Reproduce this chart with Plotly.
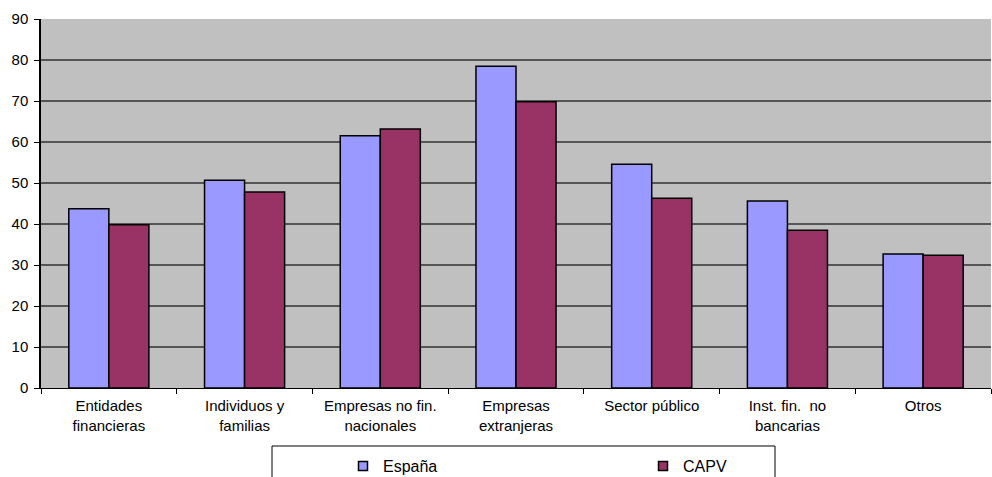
import plotly.graph_objects as go

categories = ["Entidades<br>financieras", "Individuos y<br>familias", "Empresas no fin.<br>nacionales",
              "Empresas<br>extranjeras", "Sector público", "Inst. fin.  no<br>bancarias", "Otros"]
espana = [43.7, 50.7, 61.5, 78.5, 54.6, 45.6, 32.7]
capv = [39.8, 47.8, 63.2, 69.8, 46.3, 38.5, 32.4]
series_names = ["España", "CAPV"]
series_colors = ["#9999FF", "#993366"]

fig = go.Figure()
for name, vals, col in zip(series_names, [espana, capv], series_colors):
    fig.add_trace(go.Bar(name=name, x=categories, y=vals, showlegend=False,
                         marker=dict(color=col, line=dict(color="black", width=1.5))))
# legend-only entries (small square markers as in the original)
for name, col in zip(series_names, series_colors):
    fig.add_trace(go.Scatter(name=name, x=[None], y=[None], mode="markers",
                             marker=dict(symbol="square", size=9, color=col,
                                         line=dict(color="black", width=1.5))))

def px_x(p):
    return (p - 41) / 950.0

def px_y(p):
    return (388 - p) / 369.0

fig.update_layout(
    width=992, height=477,
    margin=dict(l=41, r=1, t=19, b=89, autoexpand=False),
    paper_bgcolor="white", plot_bgcolor="#C0C0C0",
    barmode="group", bargap=0.41, bargroupgap=0,
    font=dict(family="Liberation Sans, Arial, sans-serif", size=15, color="black"),
    showlegend=True,
    legend=dict(orientation="h", x=px_x(343), xanchor="left", y=px_y(449), yanchor="top",
                borderwidth=0, bgcolor="rgba(0,0,0,0)",
                font=dict(size=16), entrywidth=255, itemsizing="trace"),
    shapes=[dict(type="rect", xref="paper", yref="paper",
                 x0=px_x(272), x1=px_x(775), y0=px_y(446), y1=px_y(482),
                 line=dict(color="black", width=1), fillcolor="white", layer="below")],
)
fig.update_xaxes(showline=True, linecolor="black", linewidth=1, ticks="outside", ticklen=5,
                 tickcolor="black", tickson="boundaries", showgrid=False, ticklabelstandoff=4)
fig.update_yaxes(range=[0, 90], dtick=10, showline=True, linecolor="black", linewidth=1.5,
                 ticks="outside", ticklen=5, tickcolor="black", showgrid=True,
                 gridcolor="#555555", gridwidth=1.5, zeroline=False, ticklabelstandoff=3)

fig.write_html("out.html", config={"displayModeBar": False},
               post_script="document.body.style.margin='0';")
